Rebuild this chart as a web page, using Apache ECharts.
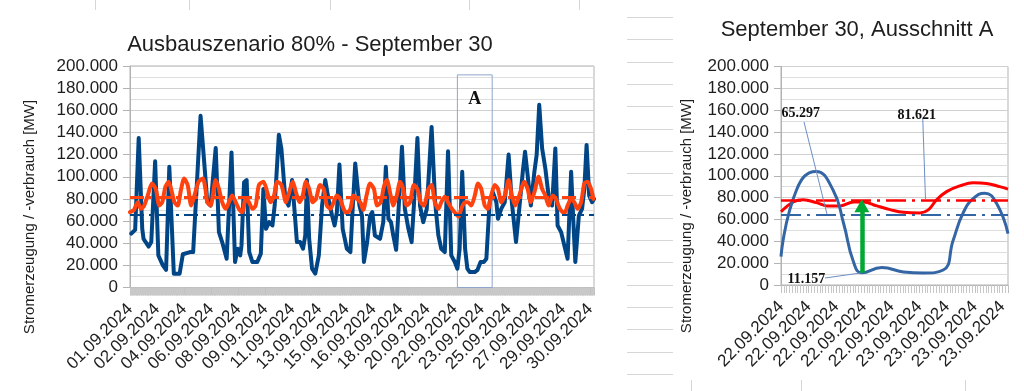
<!DOCTYPE html>
<html><head><meta charset="utf-8">
<script src="https://cdn.jsdelivr.net/npm/echarts@6/dist/echarts.min.js"></script>
<style>html,body{margin:0;padding:0;background:#fff;}#c{width:1024px;height:391px;}</style>
</head><body><div id="c"></div>
<script>
// ---------- texts ----------
const leftTitle = 'Ausbauszenario 80% - September 30';
const rightTitle = 'September 30, Ausschnitt A';
const yAxisName = 'Stromerzeugung / -verbrauch [MW]';
const boxLabel = 'A';

// ---------- left chart (hourly position within September) ----------
const leftDateLabels = ['01.09.2024','02.09.2024','04.09.2024','06.09.2024','08.09.2024','09.09.2024','11.09.2024','13.09.2024','15.09.2024','16.09.2024','18.09.2024','20.09.2024','22.09.2024','23.09.2024','25.09.2024','27.09.2024','29.09.2024','30.09.2024'];
const leftGenHours = [2,8,13.5,19,21,29,33,39,44,51,56,61,68,77,82,93,98,109.5,120,125,133,138,143,150,157.5,163,167,171,173,177,181,185,190,197.5,203,207,211,216,221,224.5,231,235,241,246,251.5,255.5,259,264,268.5,272,274.5,278,282.5,287.5,293,298,303,308,313.5,317.5,321,325,330,336.5,342,345.5,349.5,356,360,363,368,372.5,376,380,388,393,397,401,405,408.5,413,418,422,426.5,432,437,440.5,446,450,455,460.5,468,473.5,478.5,483,488.5,493.5,498.5,504,508,511.5,515.5,520,523.5,527,535,539,544,549,553,558,563,568.5,571,576,581.5,587.5,592.5,599,604,609.5,613,617,622,627.5,631,635,639.5,644.5,649.5,655,660,663.5,669,674,679,684.5,688,691,696.5,701.5,705,708.5,712.5,717,720];
const leftGenMW = [48700,52000,135000,53000,44000,37000,41000,114000,29000,20000,16000,109000,12500,12500,30000,32000,32000,155000,77000,74000,126000,50000,41000,26000,122000,23000,35000,29000,38000,95000,97000,32000,23000,23000,30600,89000,53000,59000,56000,74000,138000,125000,80000,74000,97000,68000,41000,41000,35000,47000,97000,44000,17000,12500,29000,74000,97000,80000,65000,56000,68000,111000,53000,35000,32000,71000,112000,74000,65000,23000,41000,65000,68000,47000,44000,59000,109000,62000,59000,47000,34000,83000,127000,71000,53000,41000,74000,135000,74000,59000,71000,145000,77000,47000,35000,32000,123000,29000,23000,17000,35000,104500,35000,17000,14000,14000,15600,23000,23000,26000,77000,86000,77000,62000,71000,77000,120000,77000,41000,71000,104500,122600,101500,74000,104500,119600,165000,125600,107500,83000,74000,125600,56000,50000,38000,26000,104500,59000,23000,65000,71000,89000,128700,83000,77000,80000];
const leftLoadHours = [0,6,12,17,22,27.5,34,40,45.5,50,55,60,65,69,74,79,84,89.5,95,100,106.5,113,117,120,125,133,138,143,148.5,153.5,158.5,164,169,174,179.5,184.5,190,195,200,207,213,218,223.5,228.5,235,242,247,252.5,257.5,263,268,273,278,283.5,288.5,295,300.5,305.5,311,316,321,326,331.5,336.5,342,347,352,357.5,362,367,372.5,378.5,383.5,389,394,398.5,404.5,408.5,414,419,424,429.5,434.5,440.5,446,451,456,463,468,473,478.5,483,488.5,493.5,499.5,505,510,514,519.5,524.5,529.5,535,540,545,550.5,555.5,560.5,566,571,576,581.5,587.5,592.5,598,604,612,617,622,627.5,634,639.5,644.5,649.5,656,661,667,674,679,684.5,689.5,694.5,700,705,710,715.5,719];
const leftLoadMW = [68000,70000,77000,71000,74000,83000,94000,89000,74000,77000,91000,95500,86000,77000,74000,88000,98500,92500,74000,83000,95500,98500,89000,77000,74000,97000,89000,77000,71000,77000,83000,77000,71000,68000,80000,77000,71000,74000,92500,95500,86000,77000,83000,95500,92500,77000,86000,95500,86000,77000,83000,95500,89000,77000,80000,92500,89000,74000,71000,77000,83000,80000,71000,67000,71000,83000,80000,77000,70000,83000,94000,89000,74000,77000,91000,97000,83000,74000,83000,95500,89000,74000,77000,92500,89000,77000,74000,89000,92500,77000,71000,77000,82000,77000,71000,67000,64000,71000,77000,77000,74000,83000,94000,89000,74000,71000,83000,92500,89000,77000,83000,97000,83000,74000,83000,95500,89000,77000,86000,100000,89000,83000,74000,83000,80000,71000,67000,74000,80000,77000,71000,77000,94000,95500,89000,80000];
const leftGenMean = 65297;
const leftLoadMean = 81621;
const boxAHours = [508, 562];
const boxAMW = [192000, -1600];

// ---------- right chart (Ausschnitt A) ----------
const rightDateLabels = ['22.09.2024','22.09.2024','22.09.2024','22.09.2024','22.09.2024','23.09.2024','23.09.2024','23.09.2024','23.09.2024'];
const rightGenSteps = [0,2.8,6.3,9.4,11.3,13.1,14.6,18.2,22.1,25.7,29.3,31.1,32.9,34.7,36.8,38.9,41];
const rightGenMW = [26000,87000,104000,87000,56500,21000,11157,16000,12000,11000,13700,41000,66000,79000,84000,75000,47000];
const rightLoadSteps = [0,2.2,4.0,6.4,8.3,10.7,13.1,14.9,17.3,19.7,22.1,25.1,26.6,28.1,29.9,32.3,34.7,37.1,39.5,41];
const rightLoadMW = [67000,76000,78000,75400,72400,72400,76000,76000,72400,69000,66500,66000,68700,78000,85500,90700,93700,93000,90000,87700];
const rightGenLevel = 64000;
const rightLoadLevel = 78000;
const minStep = 14.6, minMW = 11157;
const annotations = [
  {text:'65.297', at:[3.55,157500], from:[4.15,149300], to:[8.3,65000]},
  {text:'81.621', at:[24.5,155700], from:[25.6,152700], to:[26.1,78000]},
  {text:'11.157', at:[4.6,5500], from:[7.95,6400], to:[14.6,11157]}
];

// ---------- helpers ----------
const zip = (a, b) => a.map((x, i) => [x, b[i]]);
const fmt = v => String(Math.round(v)).replace(/\B(?=(\d{3})+(?!\d))/g, '.');
const ff = '"Liberation Sans", Arial, sans-serif';
const txt = '#1e1e1e';
const grey = '#b3b3b3';

function yAxis(grid) {
  return {
    type:'value', gridIndex:grid, min:0, max:200000, interval:20000,
    axisLine:{show:true, lineStyle:{color:grey}},
    axisTick:{show:true, length:7, lineStyle:{color:grey}},
    axisLabel:{fontFamily:ff, fontSize:17, color:txt, margin:12, formatter:fmt},
    splitLine:{show:true, lineStyle:{color:'#d0d0d0'}},
    minorTick:{show:false, splitNumber:2},
    minorSplitLine:{show:true, lineStyle:{color:'#dedede'}}
  };
}
function xAxis(grid, max, interval, minorN, labels) {
  return {
    type:'value', gridIndex:grid, min:0, max:max, interval:interval,
    axisLine:{show:true, lineStyle:{color:grey}},
    axisTick:{show:true, length:8, lineStyle:{color:'#c2c2c2'}},
    minorTick:{show:true, splitNumber:minorN, length:8, lineStyle:{color:'#c8c8c8'}},
    splitLine:{show:false},
    axisLabel:{rotate:45, margin:19, fontFamily:ff, fontSize:17, color:txt, showMaxLabel:false,
      formatter: v => { const i = Math.round(v / interval); return Math.abs(i*interval - v) < 1e-6 && labels[i] ? labels[i] : ''; }}
  };
}
const dashDot = [14, 5, 3, 5];

const option = {
  animation:false,
  backgroundColor:'#ffffff',
  title:[
    {text:leftTitle, left:310, top:34, textAlign:'center', padding:0, textStyle:{fontFamily:ff, fontSize:22, fontWeight:'normal', color:txt}},
    {text:rightTitle, left:857, top:19, textAlign:'center', padding:0, textStyle:{fontFamily:ff, fontSize:22, fontWeight:'normal', color:txt}}
  ],
  grid:[
    {left:130, top:66, width:464, height:221.5, show:true, borderColor:grey, borderWidth:1},
    {left:781, top:66.5, width:227, height:218.5, show:true, borderColor:grey, borderWidth:1}
  ],
  xAxis:[ xAxis(0, 720, 42, 42, leftDateLabels), xAxis(1, 41, 5, 10, rightDateLabels) ],
  yAxis:[ yAxis(0), yAxis(1) ],
  series:[
    {type:'line', xAxisIndex:0, yAxisIndex:0, data:zip(leftGenHours, leftGenMW), showSymbol:false, smooth:false, clip:false,
     lineStyle:{color:'#004586', width:4, join:'round', cap:'round'}, itemStyle:{color:'#004586'},
     markLine:{silent:true, symbol:'none', label:{show:false}, lineStyle:{color:'#004586', width:2, type:dashDot}, data:[{yAxis:leftGenMean}]},
     markArea:{silent:true, itemStyle:{color:'rgba(0,0,0,0)', borderColor:'#8fa6cc', borderWidth:1},
       label:{show:true, position:'insideTop', distance:16, formatter:boxLabel, fontFamily:'"Liberation Serif", serif', fontWeight:'bold', fontSize:18, color:'#111'},
       data:[[{coord:[boxAHours[0], boxAMW[0]]}, {coord:[boxAHours[1], boxAMW[1]]}]]}},
    {type:'line', xAxisIndex:0, yAxisIndex:0, data:zip(leftLoadHours, leftLoadMW), showSymbol:false, smooth:0.25,
     lineStyle:{color:'#ff420e', width:4, join:'round', cap:'round'}, itemStyle:{color:'#ff420e'},
     markLine:{silent:true, symbol:'none', label:{show:false}, lineStyle:{color:'#ff420e', width:3, type:dashDot}, data:[{yAxis:leftLoadMean}]}},
    {type:'line', xAxisIndex:1, yAxisIndex:1, data:zip(rightLoadSteps, rightLoadMW), showSymbol:false, smooth:0.4,
     lineStyle:{color:'#ff0000', width:3}, itemStyle:{color:'#ff0000'},
     markLine:{silent:true, symbol:'none', label:{show:false}, lineStyle:{color:'#ff0000', width:2.5, type:[20,6,3,6]}, data:[{yAxis:rightLoadLevel}]}},
    {type:'line', xAxisIndex:1, yAxisIndex:1, data:zip(rightGenSteps, rightGenMW), showSymbol:false, smooth:0.5,
     lineStyle:{color:'#3465a4', width:3}, itemStyle:{color:'#3465a4'},
     markLine:{silent:true, symbol:'none', label:{show:false}, lineStyle:{color:'#3465a4', width:2, type:[20,6,3,6]},
       data:[{yAxis:rightGenLevel}].concat(annotations.map(a => [{coord:a.from, lineStyle:{width:1, type:'solid', color:'#6d8fc4'}}, {coord:a.to}]))}},
    {type:'line', xAxisIndex:1, yAxisIndex:1, data:[], showSymbol:false,
     markLine:{silent:true, symbol:['none','triangle'], symbolSize:[15,13], label:{show:false},
       lineStyle:{color:'#00a933', width:4.5, type:'solid'},
       data:[[{coord:[minStep, minMW]}, {coord:[minStep, rightLoadLevel - 5500]}]]}}
  ]
};
const chart = echarts.init(document.getElementById('c'), null, {renderer:'canvas'});
chart.setOption(option);

// background spreadsheet cell lines + axis names + annotation texts
const g = [];
const cellLine = {stroke:'#d6d6d6', lineWidth:1};
[95.5,189.5,330.5,469.5,579.5].forEach(x => g.push({type:'line', shape:{x1:x,y1:0,x2:x,y2:10}, style:cellLine, silent:true}));
[691.5,801.5,965.5].forEach(x => g.push({type:'line', shape:{x1:x,y1:380,x2:x,y2:391}, style:cellLine, silent:true}));
for (let k = 0; k < 17; k++) { const y = Math.round(17 + k*22.31) + 0.5; g.push({type:'line', shape:{x1:627,y1:y,x2:673,y2:y}, style:cellLine, silent:true}); }
[[30,217],[687,216]].forEach(p => g.push({type:'text', x:p[0], y:p[1], rotation:Math.PI/2, silent:true,
  style:{text:yAxisName, fontFamily:ff, fontSize:15, fill:txt, align:'center', verticalAlign:'middle'}}));
annotations.forEach(a => { const p = chart.convertToPixel({xAxisIndex:1, yAxisIndex:1}, a.at);
  g.push({type:'text', x:p[0], y:p[1], z:100, silent:true, style:{text:a.text, fontFamily:'"Liberation Serif", serif', fontWeight:'bold', fontSize:14, fill:'#111', align:'center', verticalAlign:'middle'}}); });
chart.setOption({graphic:g});
</script></body></html>
